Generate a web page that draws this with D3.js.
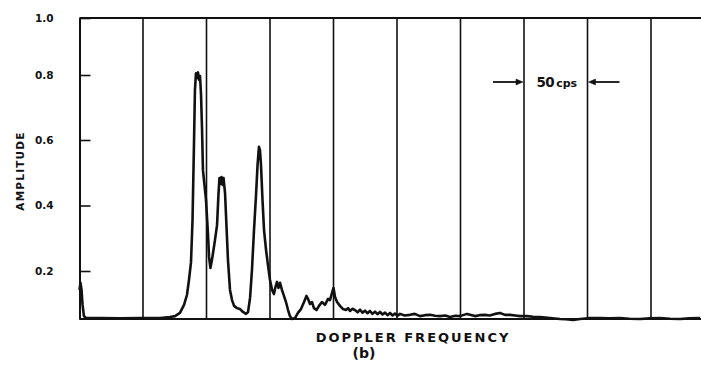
<!DOCTYPE html>
<html>
<head>
<meta charset="utf-8">
<script src="https://cdn.jsdelivr.net/npm/d3@7"></script>
<style>
  html, body { margin: 0; padding: 0; background: #fff; }
  svg { display: block; }
  text { font-family: "DejaVu Sans", "Liberation Sans", sans-serif; font-weight: bold; fill: #111; }
</style>
</head>
<body>
<svg id="chart" width="701" height="366"></svg>
<script>
// Doppler spectrum trace: frequency offset (cps) and relative amplitude
const freqCps = [
  0, 0.8, 1.6, 2.4, 3.5, 5.1, 16.1, 31.9, 47.6, 63.4, 71.3, 75.2, 79.1, 82.3, 84.6, 86.2,
  87.8, 89.0, 90.2, 90.9, 91.7, 92.5, 93.3, 94.1, 94.9, 95.7, 96.5, 97.2, 98.4, 99.6,
  101.2, 102.0, 103.1, 104.3, 105.5, 106.7, 108.3, 109.4, 110.2, 111.0, 111.8, 112.6, 113.4,
  114.6, 115.7, 116.9, 118.5, 120.1, 121.7, 124.0, 126.4, 128.7, 131.1, 132.7, 134.3,
  135.8, 137.4, 139.0, 140.2, 141.3, 142.1, 142.9, 144.1, 145.3, 146.9, 148.4, 150.0,
  151.6, 153.1, 154.3, 155.5, 156.7, 157.9, 159.4, 161.0, 162.6, 164.2, 165.7, 167.3,
  169.7, 172.0, 174.4, 176.8, 178.7, 179.9, 181.5, 183.1, 184.6, 186.6, 188.6, 190.9,
  193.3, 195.7, 197.2, 198.8, 200.0, 201.2, 202.8, 205.1, 207.5, 209.8, 211.5, 213.0, 215.0, 216.9,
  219.0, 220.9, 222.8, 224.8, 226.8, 228.7, 230.7, 232.7, 234.6, 236.6, 238.6, 240.6, 242.5, 244.5,
  246.5, 248.4, 250.4, 252.4, 256.0, 260.2, 264.0,
  268.1, 272.0, 276.0, 280.0, 283.9, 288.0, 291.7, 296.0, 299.6, 305.1, 311.4, 315.0,
  319.3, 323.0, 327.2, 331.1, 335.0, 339.0, 343.0, 346.9, 352.4, 357.0, 362.6, 370.5,
  378.3, 383.0, 388.6, 394.1, 402.0, 409.8, 417.0, 425.6, 433.0, 441.3, 449.0, 457.1,
  465.0, 472.8, 480.0, 488.6
];
const amplitude = [
  0.141, 0.163, 0.141, 0.094, 0.059, 0.053, 0.053, 0.052, 0.053, 0.053, 0.056, 0.059, 0.069, 0.094, 0.125, 0.172,
  0.227, 0.356, 0.600, 0.754, 0.806, 0.791, 0.809, 0.785, 0.797, 0.738, 0.631, 0.508, 0.463, 0.417,
  0.310, 0.243, 0.209, 0.234, 0.264, 0.295, 0.340, 0.432, 0.484, 0.466, 0.487, 0.463, 0.484,
  0.438, 0.340, 0.234, 0.141, 0.109, 0.091, 0.084, 0.081, 0.072, 0.066, 0.072, 0.116,
  0.203, 0.325, 0.432, 0.524, 0.579, 0.569, 0.524, 0.417, 0.325, 0.264, 0.218, 0.172,
  0.141, 0.128, 0.150, 0.166, 0.147, 0.163, 0.141, 0.122, 0.103, 0.078, 0.059, 0.050,
  0.053, 0.069, 0.081, 0.103, 0.122, 0.113, 0.097, 0.103, 0.084, 0.078, 0.091, 0.103,
  0.094, 0.113, 0.109, 0.131, 0.147, 0.119, 0.103, 0.091, 0.081, 0.078, 0.084, 0.075, 0.082, 0.078,
  0.071, 0.079, 0.070, 0.076, 0.068, 0.075, 0.066, 0.073, 0.065, 0.072, 0.064, 0.070, 0.062, 0.069,
  0.061, 0.067, 0.060, 0.066, 0.061, 0.063, 0.066,
  0.059, 0.062, 0.063, 0.060, 0.059, 0.061, 0.056, 0.060, 0.059, 0.066, 0.059, 0.062,
  0.063, 0.061, 0.066, 0.069, 0.063, 0.063, 0.061, 0.059, 0.059, 0.057, 0.056, 0.053,
  0.050, 0.049, 0.047, 0.050, 0.053, 0.053, 0.052, 0.053, 0.051, 0.050, 0.052, 0.053,
  0.051, 0.050, 0.052, 0.053
];
const yTickValues = [0.2, 0.4, 0.6, 0.8, 1.0];
const yTickLabels = ["0.2", "0.4", "0.6", "0.8", "1.0"];
const gridCps = [50, 100, 150, 200, 250, 300, 350, 400, 450];
const scaleMarker = { from: 350, to: 400, label: "50", unit: "cps" };
const xTitle = "DOPPLER FREQUENCY";
const yTitle = "AMPLITUDE";
const panelTag = "(b)";

const svg = d3.select("#chart");
const W = 701;

// frequency: 50 cps per grid division; the record runs past the right edge
const x = d3.scaleLinear().domain([0, 500]).range([79.5, 714.5]);
// hand-ruled amplitude axis (piecewise; bottom line sits at about 0.05)
const y = d3.scaleLinear()
  .domain([0.05, 0.2, 0.4, 0.6, 0.8, 1.0])
  .range([319, 271, 205.5, 140, 75, 18]);

const x0 = x(0), yTop = y(1.0), yBase = y(0.05);

// vertical grid lines every 50 cps
svg.append("g").selectAll("line").data(gridCps).join("line")
  .attr("x1", d => x(d)).attr("x2", d => x(d))
  .attr("y1", yTop).attr("y2", yBase)
  .attr("stroke", "#111").attr("stroke-width", 1.6);

// top rule
svg.append("line")
  .attr("x1", x0).attr("x2", W).attr("y1", yTop).attr("y2", yTop)
  .attr("stroke", "#111").attr("stroke-width", 2);

// bottom rule
svg.append("line")
  .attr("x1", x0).attr("x2", W).attr("y1", yBase).attr("y2", yBase)
  .attr("stroke", "#111").attr("stroke-width", 2.2);

// amplitude axis with inward ticks
const yAxis = d3.axisLeft(y)
  .tickValues(yTickValues)
  .tickFormat((d, i) => yTickLabels[i])
  .tickSize(-11)
  .tickSizeOuter(0)
  .tickPadding(26);
const ga = svg.append("g").attr("transform", `translate(${x0},0)`).call(yAxis);
ga.select(".domain").attr("stroke", "#111").attr("stroke-width", 2);
ga.selectAll(".tick line").attr("stroke", "#111").attr("stroke-width", 1.6);
ga.selectAll(".tick text")
  .attr("font-size", 10.5)
  .attr("font-family", "DejaVu Sans, sans-serif")
  .attr("font-weight", "bold")
  .attr("fill", "#111");

// spectrum trace
const line = d3.line()
  .x((d, i) => x(freqCps[i]))
  .y(d => y(d));
svg.append("path")
  .datum(amplitude)
  .attr("d", line)
  .attr("fill", "none")
  .attr("stroke", "#111")
  .attr("stroke-width", 2.6)
  .attr("stroke-linejoin", "round");

// axis titles
svg.append("text")
  .attr("transform", `translate(24,171) rotate(-90)`)
  .attr("text-anchor", "middle")
  .attr("font-size", 10.5)
  .attr("letter-spacing", 1.2)
  .text(yTitle);

svg.append("text")
  .attr("x", 413).attr("y", 342)
  .attr("text-anchor", "middle")
  .attr("font-size", 13)
  .attr("letter-spacing", 2)
  .text(xTitle);

svg.append("text")
  .attr("x", 364).attr("y", 358)
  .attr("text-anchor", "middle")
  .attr("font-size", 14)
  .attr("font-family", "DejaVu Serif, serif")
  .text(panelTag);

// 50 cps width marker between two grid lines
const mY = 82;
const mx1 = x(scaleMarker.from), mx2 = x(scaleMarker.to);
const mk = svg.append("g").attr("stroke", "#111").attr("fill", "#111");
mk.append("line").attr("x1", mx1 - 31).attr("x2", mx1 - 6).attr("y1", mY).attr("y2", mY).attr("stroke-width", 1.8);
mk.append("path").attr("d", `M${mx1 - 1},${mY} L${mx1 - 8},${mY - 3} L${mx1 - 8},${mY + 3} Z`).attr("stroke-width", 0.5);
mk.append("line").attr("x1", mx2 + 6).attr("x2", mx2 + 32).attr("y1", mY).attr("y2", mY).attr("stroke-width", 1.8);
mk.append("path").attr("d", `M${mx2 + 1},${mY} L${mx2 + 8},${mY - 3} L${mx2 + 8},${mY + 3} Z`).attr("stroke-width", 0.5);

const mt = svg.append("text")
  .attr("x", (mx1 + mx2) / 2 + 1).attr("y", mY + 5)
  .attr("text-anchor", "middle");
mt.append("tspan").attr("font-size", 13.5).attr("letter-spacing", -0.5).text(scaleMarker.label);
mt.append("tspan").attr("font-size", 11).attr("dx", 2).text(scaleMarker.unit);
</script>
</body>
</html>
